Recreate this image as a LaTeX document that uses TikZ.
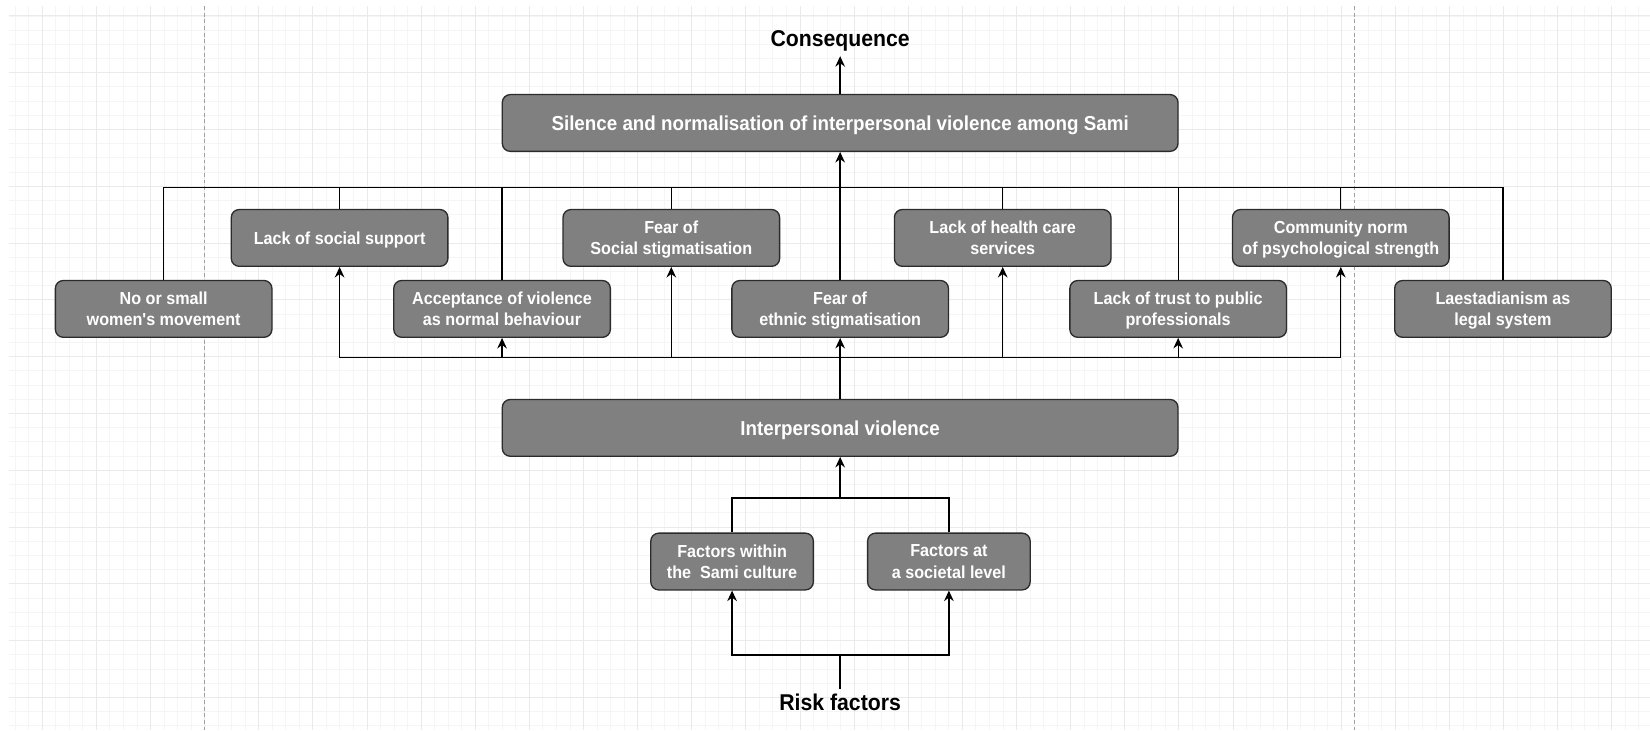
\documentclass[tikz,border=0pt]{standalone}
\usepackage{fontspec}
\newfontfamily\diagfont{Liberation Sans}[FakeStretch=0.93]
\usetikzlibrary{arrows.meta,positioning}
\usepackage{xcolor}
\definecolor{boxfill}{HTML}{808080}
\definecolor{boxline}{HTML}{2B2B2B}
\definecolor{gridlight}{HTML}{F5F5F5}
\definecolor{griddark}{HTML}{EAEAEA}
\definecolor{pagegray}{HTML}{A0A0A0}

\begin{document}
\begin{tikzpicture}[
        x=0.02cm, y=-0.02cm,
        % Box styles
        factorbox/.style={rectangle, rounded corners=4.5pt, draw=boxline, fill=boxfill, line width=0.75pt, minimum width=4.334cm, minimum height=1.136cm, inner sep=0pt, text depth=0pt, align=center, text=white, font=\diagfont\bfseries\fontsize{9.9}{12.1}\selectfont},
        mainbox/.style={factorbox, minimum width=13.52cm, font=\diagfont\bfseries\fontsize{11.5}{14}\selectfont},
        riskbox/.style={factorbox, minimum width=3.252cm},
        headtext/.style={inner sep=2.5pt, font=\diagfont\bfseries\fontsize{13}{15}\selectfont},
        % Connector styles
        flowline/.style={line width=0.75pt, draw=black},
        flowarrow/.style={flowline, -{Stealth[length=6pt, width=5.5pt, inset=2pt]}},
        % Background styles
        gridminor/.style={draw=gridlight, line width=0.55pt},
        gridmajor/.style={draw=griddark, line width=0.57pt},
        pagebreak/.style={draw=pagegray, line width=0.6pt, dash pattern=on 2.2pt off 1.6pt}
    ]

    % Drawing sheet with grid
    \fill[white] (0,0) rectangle (1650,730);
    \foreach \i in {-2,...,118} \draw[gridminor] ({42.3+13.535*\i},6) -- ({42.3+13.535*\i},730);
    \foreach \j in {0,...,50} \draw[gridminor] (9,{16+14.2*\j}) -- (1650,{16+14.2*\j});
    \foreach \i in {0,...,29} \draw[gridmajor] ({42.3+54.14*\i},6) -- ({42.3+54.14*\i},730);
    \foreach \j in {0,...,12} \draw[gridmajor] (9,{16+56.8*\j}) -- (1650,{16+56.8*\j});
    \draw[pagebreak] (204.3,6) -- (204.3,730);
    \draw[pagebreak] (1355,6) -- (1355,730);
    \useasboundingbox (0,0) rectangle (1650,730);

    % Consequence
    \node[mainbox] (silence) at (840.4,123) {Silence and normalisation of interpersonal violence among Sami};
    \node[headtext, anchor=base] (cons) at (840.4,46.7) {Consequence};

    % Upper row of factors
    \node[factorbox] (social) at (339.7,238) {Lack of social support};
    \node[factorbox] (stigsoc) at (671.5,238) {Fear of\\Social stigmatisation};
    \node[factorbox] (health) at (1003,238) {Lack of health care\\services};
    \node[factorbox] (norm) at (1341.2,238) {Community norm\\of psychological strength};

    % Lower row of factors
    \node[factorbox] (women) at (163.7,309) {No or small\\women's movement};
    \node[factorbox] (accept) at (502.2,309) {Acceptance of violence\\as normal behaviour};
    \node[factorbox] (ethnic) at (840.4,309) {Fear of\\ethnic stigmatisation};
    \node[factorbox] (trust) at (1178.5,309) {Lack of trust to public\\professionals};
    \node[factorbox] (laest) at (1503.4,309) {Laestadianism as\\legal system};

    % Violence and risk factors
    \node[mainbox] (iv) at (840.4,428) {Interpersonal violence};
    \node[riskbox] (within) at (732.3,561.7) {Factors within\\the\ \ Sami culture};
    \node[riskbox, right=1.06cm of within] (societal) {Factors at\\a societal level};
    \node[headtext, anchor=base] (risk) at (840.4,710.7) {Risk factors};

    % Factors up to the consequence
    \coordinate (topbus) at (840.4,187.3);
    \draw[flowarrow] (silence.north) -- (cons.south);
    \draw[flowarrow] (ethnic.north) -- (silence.south);
    \draw[flowline] (women.north) |- (topbus);
    \draw[flowline] (social.north) |- (topbus);
    \draw[flowline] (accept.north) |- (topbus);
    \draw[flowline] (stigsoc.north) |- (topbus);
    \draw[flowline] (health.north) |- (topbus);
    \draw[flowline] (trust.north) |- (topbus);
    \draw[flowline] (norm.north) |- (topbus);
    \draw[flowline] (laest.north) |- (topbus);

    % Violence up to the factors
    \coordinate (midbus) at (840.4,357.3);
    \draw[flowarrow] (iv.north) -- (ethnic.south);
    \draw[flowarrow] (midbus) -| (social.south);
    \draw[flowarrow] (midbus) -| (accept.south);
    \draw[flowarrow] (midbus) -| (stigsoc.south);
    \draw[flowarrow] (midbus) -| (health.south);
    \draw[flowarrow] (midbus) -| (trust.south);
    \draw[flowarrow] (midbus) -| (norm.south);

    % Risk factors up to violence
    \coordinate (lowjoin) at (840.4,498.3);
    \coordinate (riskjoin) at (840.4,655.3);
    \draw[flowline] (within.north) |- (lowjoin);
    \draw[flowline] (societal.north) |- (lowjoin);
    \draw[flowarrow] (lowjoin) -- (iv.south);
    \draw[flowline] (risk.north) -- (riskjoin);
    \draw[flowarrow] (riskjoin) -| (within.south);
    \draw[flowarrow] (riskjoin) -| (societal.south);

\end{tikzpicture}
\end{document}
